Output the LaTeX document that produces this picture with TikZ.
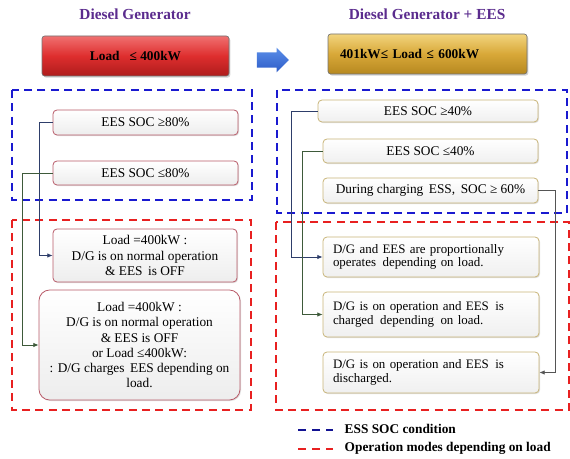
\documentclass[tikz,border=0pt]{standalone}
\usepackage{fontspec}
\setmainfont{Liberation Serif}
\usetikzlibrary{shapes.arrows,shadows,arrows.meta}
\definecolor{ttl}{HTML}{5B2C8E}
\definecolor{dblue}{HTML}{1A1AD0}
\definecolor{dred}{HTML}{E82020}
\definecolor{lborder}{HTML}{B85A68}
\definecolor{rborder}{HTML}{C8B478}
\definecolor{cblue}{HTML}{2E3E6A}
\definecolor{cgreen}{HTML}{3E5A3A}
\definecolor{cgray}{HTML}{555555}
\definecolor{redtop}{HTML}{F07070}
\definecolor{redmid}{HTML}{DE2E2E}
\definecolor{redbot}{HTML}{AE1C1C}
\definecolor{goldtop}{HTML}{F2D47E}
\definecolor{goldmid}{HTML}{D8A838}
\definecolor{goldbot}{HTML}{B68820}
\definecolor{arrtop}{HTML}{5A8EE8}
\definecolor{arrbot}{HTML}{2E5CC8}
\tikzset{
  title/.style={font=\fontsize{11.5}{13}\selectfont\bfseries, text=ttl},
  lbox/.style={draw=lborder, line width=0.6pt, rounded corners=3pt, top color=white, bottom color=black!7,
    drop shadow={opacity=0.25, shadow xshift=0.8pt, shadow yshift=-0.8pt}, align=center,
    font=\fontsize{10}{11.3}\selectfont, inner sep=2pt},
  rbox/.style={draw=rborder, line width=0.6pt, rounded corners=3pt, top color=white, bottom color=black!6,
    drop shadow={opacity=0.25, shadow xshift=0.8pt, shadow yshift=-0.8pt}, align=center,
    font=\fontsize{10}{11.3}\selectfont, inner sep=2pt},
  rmode/.style={rbox, align=left, text width=147pt, inner xsep=7.5pt, font=\fontsize{9.7}{10}\selectfont},
  bluezone/.style={draw=dblue, line width=1.5pt, dash pattern=on 6pt off 4pt},
  redzone/.style={draw=dred, line width=1.5pt, dash pattern=on 6pt off 4pt},
  conn/.style={line width=0.7pt, -{Latex[length=4pt,width=3.5pt]}},
  legtext/.style={font=\fontsize{10}{12}\selectfont\bfseries, anchor=west}
}
\begin{document}
\begin{tikzpicture}[x=0.75pt,y=-0.75pt]
\useasboundingbox (0,0) rectangle (570,459);
% titles
\node[title] (t1) at (135,14) {Diesel Generator};
\node[title] (t2) at (427,14) {Diesel Generator + EES};
% load boxes
\node[draw=black!55, line width=0.5pt, rounded corners=2pt, minimum width=140.25pt, minimum height=30pt,
  top color=redtop, bottom color=redbot, middle color=redmid,
  drop shadow={opacity=0.35, shadow xshift=1pt, shadow yshift=-1.2pt},
  font=\fontsize{10}{12}\selectfont\bfseries] (lred) at (135.5,56) {Load \ \ ≤ 400kW};
\node[draw=black!55, line width=0.5pt, rounded corners=2pt, minimum width=149.25pt, minimum height=30pt,
  top color=goldtop, bottom color=goldbot, middle color=goldmid,
  drop shadow={opacity=0.35, shadow xshift=1pt, shadow yshift=-1.2pt},
  text width=131.25pt, inner xsep=9pt, align=left,
  font=\fontsize{10}{12}\selectfont\bfseries] (lgold) at (427.5,54) {401kW≤ Load ≤ 600kW};
\node[single arrow, single arrow head extend=3.4pt, minimum height=24pt, minimum width=18pt, inner sep=5.6pt,
  draw=none, top color=arrtop, bottom color=arrbot] (arr) at (269,60) {};
% zones
\draw[bluezone] (12,90) rectangle (252,200);
\draw[bluezone] (277,90) rectangle (567,213);
\draw[redzone] (12,220) rectangle (251,410);
\draw[redzone] (276,222) rectangle (569,410);
% left boxes
\node[lbox, minimum width=138.75pt, minimum height=18.75pt] (s1) at (145.5,122.5) {EES SOC ≥80\%};
\node[lbox, minimum width=138.75pt, minimum height=18pt] (s2) at (145.5,173) {EES SOC ≤80\%};
\node[lbox, minimum width=138pt, minimum height=39.75pt] (m1) at (145,255.5) {Load =400kW :\\ D/G is on normal operation\\ \& EES\, is OFF};
\node[lbox, rounded corners=8pt, minimum width=150.75pt, minimum height=82.5pt] (m2) at (139.5,345)
  {Load =400kW :\\ D/G is on normal operation\\ \& EES is OFF\\ or Load ≤400kW:\\ : D/G charges\, EES depending on\\ load.};
% right boxes
\node[rbox, minimum width=165pt, minimum height=16.5pt] (r1) at (428,111) {EES SOC ≥40\%};
\node[rbox, minimum width=161.25pt, minimum height=18pt] (r2) at (430.5,151) {EES SOC ≤40\%};
\node[rbox, minimum width=161.25pt, minimum height=18.75pt] (r3) at (430.5,190.5) {During charging\, ESS, \,SOC ≥ 60\%};
\node[rmode, minimum height=30pt] (ra) at (431,257) {D/G and EES are proportionally\\ operates\, depending on load.};
\node[rmode, minimum height=33.75pt] (rb) at (431,314.5) {D/G is on operation and EES\, is\\ charged\, depending\, on load.};
\node[rmode, minimum height=30.75pt] (rc) at (431,372.5) {D/G is on operation and EES\, is\\ discharged.};
% connectors
\draw[conn, cblue] (s1.west) -- ++(-13,0) |- (m1.west);
\draw[conn, cgreen] (s2.west) -- ++(-30,0) |- (m2.west);
\draw[conn, cblue] (r1.west) -- ++(-26,0) |- (ra.west);
\draw[conn, cgreen] (r2.west) -- ++(-20,0) |- (rb.west);
\draw[conn, cgray] (r3.east) -- ++(17,0) |- (rc.east);
% legend
\coordinate (lb1) at (298,430);
\coordinate (lb2) at (333,430);
\coordinate (lr1) at (298,449);
\coordinate (lr2) at (333,449);
\draw[draw=dblue!70!black, line width=1.5pt, dash pattern=on 6pt off 4.5pt] (lb1) -- (lb2);
\draw[draw=dred, line width=1.5pt, dash pattern=on 6pt off 4.5pt] (lr1) -- (lr2);
\node[legtext] (lt1) at (340,429) {ESS SOC condition};
\node[legtext] (lt2) at (340,448) {Operation modes depending on load};
\end{tikzpicture}
\end{document}
